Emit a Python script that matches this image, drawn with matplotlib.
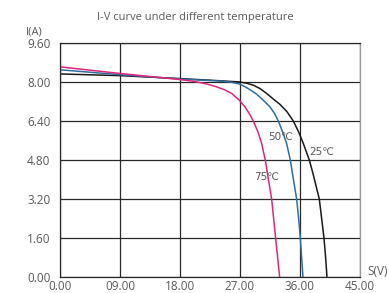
import matplotlib
matplotlib.use('Agg')
import matplotlib.pyplot as plt

# I-V data, per temperature
v_25 = [0, 9, 18, 24, 27, 28, 29, 30, 31, 32, 33, 34, 35, 35.8, 36.5, 37.0, 37.4,
        37.9, 38.4, 38.9, 39.25, 39.6, 39.85, 40.05]
i_25 = [8.33, 8.26, 8.14, 8.05, 8.0, 7.95, 7.87, 7.73, 7.53, 7.3, 7.08, 6.8, 6.4, 5.95,
        5.48, 5.1, 4.8, 4.3, 3.75, 3.2, 2.4, 1.6, 0.8, 0.0]

v_50 = [0, 9, 18, 24, 25.5, 26.8, 27.8, 28.7, 29.5, 30.5, 31.5, 32.2, 32.75, 33.4,
        34.0, 34.3, 34.55, 34.9, 35.2, 35.5, 35.8, 36.05, 36.25, 36.45]
i_50 = [8.5, 8.3, 8.12, 8.04, 8.0, 7.93, 7.8, 7.65, 7.5, 7.25, 6.98, 6.7, 6.4, 5.95,
        5.48, 5.1, 4.8, 4.2, 3.7, 3.2, 2.4, 1.6, 0.8, 0.0]

v_75 = [0, 9, 18, 20, 22, 23.5, 24.7, 25.75, 26.8, 27.75, 28.4, 29.0, 29.7, 30.25,
        30.55, 30.8, 31.15, 31.45, 31.75, 32.05, 32.35, 32.65, 32.95]
i_75 = [8.62, 8.35, 8.1, 8.03, 7.92, 7.8, 7.68, 7.53, 7.28, 6.98, 6.7, 6.4, 5.95, 5.48,
        5.1, 4.8, 4.2, 3.7, 3.2, 2.4, 1.6, 0.8, 0.0]

x_ticks = [0, 9, 18, 27, 36, 45]
x_labels = ['0.00', '09.00', '18.00', '27.00', '36.00', '45.00']
y_ticks = [0, 1.6, 3.2, 4.8, 6.4, 8.0, 9.6]
y_labels = ['0.00', '1.60', '3.20', '4.80', '6.40', '8.00', '9.60']

plt.rcParams['font.family'] = ['Open Sans', 'DejaVu Sans']
txt = '#5a5a5a'
fs = 8

fig = plt.figure(figsize=(3.9, 2.93), dpi=100)
ax = fig.add_axes([0.1538, 0.0546, 0.7692, 0.7987])

ax.plot(v_25, i_25, color='#1a1a1a', lw=1.1)
ax.plot(v_50, i_50, color='#2e6f9e', lw=1.1)
ax.plot(v_75, i_75, color='#e0257c', lw=1.1)

ax.text(33.1, 5.74, '50℃', fontsize=7.5, color=txt, ha='center', va='center',
        family=['DejaVu Sans'])
ax.text(39.3, 5.12, '25℃', fontsize=7.5, color=txt, ha='center', va='center',
        family=['DejaVu Sans'])
ax.text(31.0, 4.1, '75℃', fontsize=7.5, color=txt, ha='center', va='center',
        family=['DejaVu Sans'])

ax.set_xlim(0, 45)
ax.set_ylim(0, 9.6)
ax.set_xticks(x_ticks)
ax.set_xticklabels(x_labels)
ax.set_yticks(y_ticks)
ax.set_yticklabels(y_labels)
ax.tick_params(length=0, labelsize=8.5, labelcolor=txt, pad=2)
ax.tick_params(axis='y', pad=7)
ax.grid(True, color='#2a2a2a', lw=0.9)
ax.set_axisbelow(True)
for s in ax.spines.values():
    s.set_color('#2a2a2a')
    s.set_linewidth(0.9)
ax.spines['right'].set_color('#999999')

fig.text(0.5, 0.94, 'I-V curve under different temperature', ha='center', va='center',
         fontsize=fs, color=txt)
fig.text(0.087, 0.89, 'I(A)', ha='center', va='center', fontsize=fs, color=txt)
fig.text(0.967, 0.072, 'S(V)', ha='center', va='center', fontsize=8.5, color=txt)

fig.savefig('out.png', dpi=100)
